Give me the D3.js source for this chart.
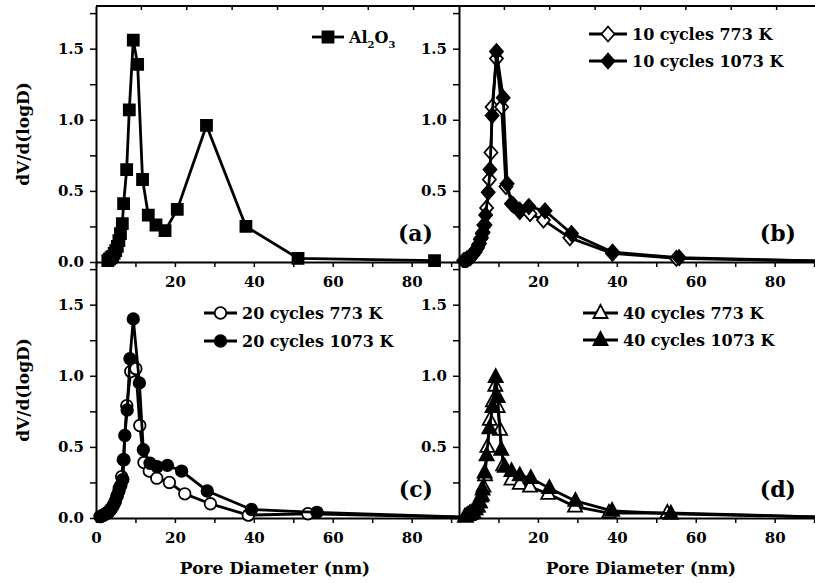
<!DOCTYPE html>
<html>
<head>
<meta charset="utf-8">
<style>
  body { margin: 0; background: #fff; }
  svg text { font-family: "DejaVu Serif", serif; font-weight: bold; fill: #000; }
</style>
</head>
<body>
<div id="chart"></div>
<script src="https://d3js.org/d3.v7.min.js"></script>
<script>
// ---- data (pore diameter nm, dV/d(logD)) ----
var al2o3X = [3.0,3.4,3.8,4.2,4.6,5.0,5.4,5.8,6.2,6.67,7.0,7.77,8.44,9.45,10.55,11.8,13.25,15.2,17.5,20.6,28.0,38.0,51.2,85.8];
var al2o3Y = [0.01,0.02,0.03,0.04,0.06,0.08,0.11,0.15,0.2,0.27,0.41,0.65,1.07,1.56,1.39,0.58,0.33,0.26,0.22,0.37,0.96,0.25,0.026,0.01];

var c10_773X  = [1.5,2.2,2.9,3.5,4.1,4.7,5.2,5.7,6.1,6.6,7.0,7.7,8.1,8.4,9.5,10.8,11.9,13.8,15.4,18.0,21.4,28.1,38.9,55.1,95];
var c10_773Y  = [0.01,0.02,0.03,0.05,0.07,0.10,0.13,0.17,0.21,0.26,0.38,0.58,0.77,1.09,1.43,1.09,0.53,0.40,0.355,0.34,0.295,0.17,0.06,0.025,0.005];
var c10_1073X = [1.2,1.9,2.6,3.2,3.8,4.4,4.9,5.4,5.9,6.3,6.75,7.4,7.85,8.4,9.5,11.2,12.2,13.3,15.4,17.7,21.8,28.5,38.9,55.8,95];
var c10_1073Y = [0.01,0.02,0.03,0.05,0.07,0.09,0.12,0.16,0.2,0.26,0.33,0.49,0.65,1.03,1.48,1.155,0.55,0.41,0.365,0.39,0.36,0.20,0.07,0.03,0.005];

var c20_773X  = [1.2,1.9,2.6,3.2,3.8,4.4,4.9,5.4,5.9,6.5,6.9,7.8,8.8,10.1,11.1,12.15,13.5,15.4,18.6,22.5,29.0,38.6,53.7,95];
var c20_773Y  = [0.01,0.02,0.03,0.04,0.06,0.09,0.12,0.16,0.21,0.29,0.41,0.79,1.03,1.05,0.65,0.39,0.33,0.28,0.25,0.17,0.10,0.02,0.03,0.005];
var c20_1073X = [1.0,1.7,2.4,3.0,3.6,4.2,4.8,5.3,5.8,6.3,6.8,7.1,7.3,7.9,8.6,9.45,11.0,12.0,13.7,15.5,18.1,21.7,28.2,39.4,56.0,95];
var c20_1073Y = [0.01,0.02,0.03,0.04,0.06,0.08,0.11,0.15,0.19,0.23,0.27,0.41,0.58,0.76,1.12,1.40,0.95,0.48,0.385,0.36,0.37,0.33,0.19,0.06,0.04,0.005];

var c40_773X  = [1.8,2.4,3.0,3.6,4.2,4.8,5.3,5.8,6.2,6.6,7.2,7.8,8.6,9.2,9.8,10.4,11.2,13.3,15.4,18.0,22.6,29.4,38.0,52.8,95];
var c40_773Y  = [0.01,0.02,0.03,0.04,0.06,0.08,0.11,0.16,0.22,0.30,0.50,0.69,0.82,0.93,0.78,0.62,0.37,0.27,0.24,0.22,0.17,0.08,0.035,0.035,0.005];
var c40_1073X = [1.5,2.1,2.7,3.3,3.9,4.5,5.0,5.5,6.0,6.5,7.0,7.7,8.5,9.3,9.8,10.7,11.6,13.3,15.4,18.2,22.9,29.5,38.8,53.7,95];
var c40_1073Y = [0.01,0.02,0.03,0.04,0.06,0.08,0.11,0.15,0.2,0.32,0.44,0.63,0.78,0.99,0.85,0.48,0.36,0.33,0.30,0.28,0.21,0.12,0.05,0.03,0.005];

var xTicks = [0,10,20,30,40,50,60,70,80,90];
var yTicks = [0,0.25,0.5,0.75,1.0,1.25,1.5,1.75];
var topTicks = [11.5,23,34.5,46,57.5,69,80.5];
var panelNames = ["(a)","(b)","(c)","(d)"];

// ---- layout ----
var width = 815, height = 583;
var panelW = 363, panelH = 256;

var svg = d3.select("#chart").append("svg")
    .attr("width", width)
    .attr("height", height);

var x = d3.scaleLinear().domain([0, 92]).range([0, panelW]);
var y = d3.scaleLinear().domain([0, 1.8]).range([panelH, 0]);

var panels = [
  { left: 96,  top: 6,   label: panelNames[0], xZero: false, yZero: true, top_: true,
    series: [ { name: "Al2O3", xs: al2o3X, ys: al2o3Y, shape: "square", fill: "#000" } ],
    legend: { x: 312, y: 37, dy: 0, len: 32 } },
  { left: 459, top: 6,   label: panelNames[1], xZero: false, yZero: false, top_: true,
    series: [ { name: "10 cycles 773 K",  xs: c10_773X,  ys: c10_773Y,  shape: "diamond", fill: "#fff" },
              { name: "10 cycles 1073 K", xs: c10_1073X, ys: c10_1073Y, shape: "diamond", fill: "#000" } ],
    legend: { x: 589, y: 34, dy: 27, len: 38 } },
  { left: 96,  top: 262, label: panelNames[2], xZero: true, yZero: true, top_: false,
    series: [ { name: "20 cycles 773 K",  xs: c20_773X,  ys: c20_773Y,  shape: "circle", fill: "#fff" },
              { name: "20 cycles 1073 K", xs: c20_1073X, ys: c20_1073Y, shape: "circle", fill: "#000" } ],
    legend: { x: 204, y: 313, dy: 28, len: 33 } },
  { left: 459, top: 262, label: panelNames[3], xZero: false, yZero: false, top_: false,
    series: [ { name: "40 cycles 773 K",  xs: c40_773X,  ys: c40_773Y,  shape: "triangle", fill: "#fff" },
              { name: "40 cycles 1073 K", xs: c40_1073X, ys: c40_1073Y, shape: "triangle", fill: "#000" } ],
    legend: { x: 583, y: 313, dy: 27, len: 35 } }
];

function markerPath(shape) {
  if (shape == "square") return "M-5.5,-5.5H5.5V5.5H-5.5Z";
  if (shape == "diamond") return "M0,-7.5L6.5,0L0,7.5L-6.5,0Z";
  if (shape == "triangle") return "M0,-8L7,5L-7,5Z";
  return d3.symbol().type(d3.symbolCircle).size(105)();
}

var line = d3.line()
    .x(function(d){ return x(d[0]); })
    .y(function(d){ return y(d[1]); });

panels.forEach(function(p, i) {
  var g = svg.append("g").attr("transform", "translate(" + p.left + "," + p.top + ")");

  // clip for the data
  svg.append("clipPath").attr("id", "clip" + i)
     .append("rect").attr("x", -8).attr("y", -8)
     .attr("width", panelW + 8).attr("height", panelH + 14);

  // top border with little inward ticks
  if (p.top_) {
    g.append("line").attr("x1", 0).attr("x2", panelW).attr("y1", 0).attr("y2", 0)
     .attr("stroke", "#000").attr("stroke-width", 2);
    g.selectAll(".tt").data(topTicks).enter().append("line")
     .attr("x1", function(d){ return x(d); }).attr("x2", function(d){ return x(d); })
     .attr("y1", 0).attr("y2", 4)
     .attr("stroke", "#000").attr("stroke-width", 1.5);
  }

  // bottom axis
  var xa = d3.axisBottom(x).tickValues(xTicks).tickSize(5).tickSizeOuter(0).tickPadding(9)
      .tickFormat(function(d){ return (d % 20 == 0 && (d > 0 || p.xZero)) ? d : ""; });
  var gx = g.append("g").attr("transform", "translate(0," + panelH + ")").call(xa);

  // left axis
  var ya = d3.axisLeft(y).tickValues(yTicks).tickSize(6).tickSizeOuter(0).tickPadding(6)
      .tickFormat(function(d){ return (d * 2 % 1 == 0 && (d > 0 || p.yZero)) ? d3.format(".1f")(d) : ""; });
  var gy = g.append("g").call(ya);

  [gx, gy].forEach(function(a){
    a.select(".domain").attr("stroke", "#000").attr("stroke-width", 2);
    a.selectAll(".tick line").attr("stroke", "#000").attr("stroke-width", 1.5);
    a.selectAll(".tick text").attr("font-size", 15).attr("font-family", "DejaVu Serif").attr("font-weight", "bold");
  });

  // series
  var dg = g.append("g").attr("clip-path", "url(#clip" + i + ")");
  p.series.forEach(function(s){
    var pts = s.xs.map(function(v, k){ return [v, s.ys[k]]; });
    dg.append("path").datum(pts).attr("d", line)
      .attr("fill", "none").attr("stroke", "#000").attr("stroke-width", 2.8)
      .attr("stroke-linejoin", "round");
    dg.selectAll(null).data(pts.filter(function(d){ return d[0] <= 92; })).enter().append("path")
      .attr("d", markerPath(s.shape))
      .attr("transform", function(d){ return "translate(" + x(d[0]) + "," + y(d[1]) + ")"; })
      .attr("fill", s.fill).attr("stroke", "#000").attr("stroke-width", 1.8);
  });

  // panel label
  g.append("text").attr("x", panelW - 26).attr("y", panelH - 21)
   .attr("text-anchor", "end").attr("font-size", 22).text(p.label);

  // legend
  p.series.forEach(function(s, k){
    var ly = p.legend.y + k * p.legend.dy;
    svg.append("line").attr("x1", p.legend.x).attr("x2", p.legend.x + p.legend.len)
       .attr("y1", ly).attr("y2", ly).attr("stroke", "#000").attr("stroke-width", 2.8);
    svg.append("path").attr("d", markerPath(s.shape))
       .attr("transform", "translate(" + (p.legend.x + p.legend.len / 2) + "," + ly + ")")
       .attr("fill", s.fill).attr("stroke", "#000").attr("stroke-width", 1.8);
    var t = svg.append("text").attr("x", p.legend.x + p.legend.len + 5).attr("y", ly + 6)
       .attr("font-size", 16);
    if (s.name == "Al2O3") {
      t.append("tspan").text("Al");
      t.append("tspan").attr("dy", 5).attr("font-size", 10).text("2");
      t.append("tspan").attr("dy", -5).text("O");
      t.append("tspan").attr("dy", 5).attr("font-size", 10).text("3");
    } else {
      t.text(s.name);
    }
  });
});

// axis titles
[134, 390].forEach(function(cy){
  svg.append("text").attr("transform", "translate(29," + cy + ") rotate(-90)")
     .attr("text-anchor", "middle").attr("font-size", 17).text("dV/d(logD)");
});
[275, 641].forEach(function(cx){
  svg.append("text").attr("x", cx).attr("y", 574)
     .attr("text-anchor", "middle").attr("font-size", 17).text("Pore Diameter (nm)");
});
</script>
</body>
</html>
